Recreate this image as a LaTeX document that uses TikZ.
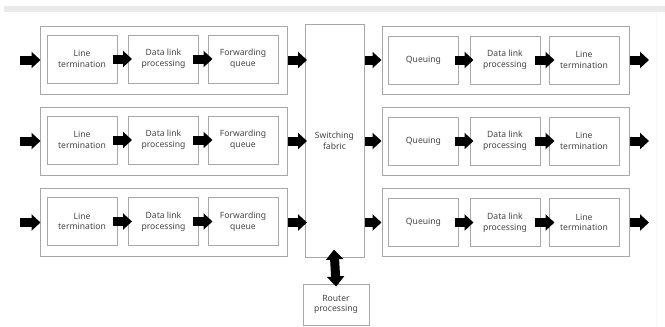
\documentclass[tikz,border=0pt]{standalone}
\usepackage{fontspec}
\setmainfont{Noto Sans}
\usetikzlibrary{arrows.meta}
\definecolor{frame}{HTML}{A8A8A8}
\definecolor{label}{HTML}{444444}
\definecolor{band}{HTML}{EAEAEA}
\tikzset{
  x=1pt, y=-1pt,
  stage/.style={draw=frame, line width=1pt, minimum width=70pt, minimum height=48pt,
    inner sep=0pt, align=center, text=label,
    font=\fontsize{8.6}{10.6}\selectfont},
  module/.style={draw=frame, line width=1pt, minimum width=247pt, minimum height=68pt, inner sep=0pt},
  flow/.style={line width=9pt, -{Triangle[length=9pt, width=16pt]}},
  bothways/.style={line width=9pt, {Triangle[length=10pt, width=17pt]}-{Triangle[length=10pt, width=17pt]}},
}
\begin{document}
\begin{tikzpicture}
\useasboundingbox (0,0) rectangle (665,327);
\fill[band] (4,6) rectangle (665,12);
\draw[color=black!3, line width=0.8pt] (656,12) -- (656,327);

% central switch and router processor
\node[stage, minimum width=59pt, minimum height=233pt] (fab) at (334.5,140.5) {Switching\\fabric};
\node[stage, minimum width=66pt, minimum height=41pt] (rp) at (336,304.5) {Router\\processing};

\foreach \r/\y in {1/60, 2/141, 3/222.5} {
  % input port
  \node[module] (in\r) at (163.5,\y) {};
  \node[stage] (lt\r) at (82,\y-1) {Line\\termination};
  \node[stage] (dl\r) at (163.5,\y-1) {Data link\\processing};
  \node[stage] (fq\r) at (243,\y-1) {Forwarding\\queue};
  % output port
  \node[module] (out\r) at (505.5,\y) {};
  \node[stage] (qu\r) at (423.5,\y) {Queuing};
  \node[stage] (od\r) at (505,\y) {Data link\\processing};
  \node[stage] (ol\r) at (584,\y) {Line\\termination};
  \coordinate (src\r) at (20,\y);
  \coordinate (dst\r) at (649,\y);
  \coordinate (fl\r) at (305,\y);
  \coordinate (fr\r) at (364,\y);

  \draw[flow, shorten >=-1pt] (src\r) -- (in\r.west);
  \draw[flow, shorten <=-5pt, shorten >=-4pt] (lt\r) -- (dl\r);
  \draw[flow, shorten <=-6pt, shorten >=-5pt] (dl\r) -- (fq\r);
  \draw[flow, shorten >=-2pt] (in\r.east) -- (fl\r);
  \draw[flow, shorten <=1pt] (fr\r) -- (out\r.west);
  \draw[flow, shorten <=-4pt, shorten >=-4pt] (qu\r) -- (od\r);
  \draw[flow, shorten <=-6pt, shorten >=-6pt] (od\r) -- (ol\r);
  \draw[flow] (out\r.east) -- (dst\r);
}

\draw[bothways, shorten <=-8pt, shorten >=-3pt] (fab.south) -- (rp.north);
\end{tikzpicture}
\end{document}
